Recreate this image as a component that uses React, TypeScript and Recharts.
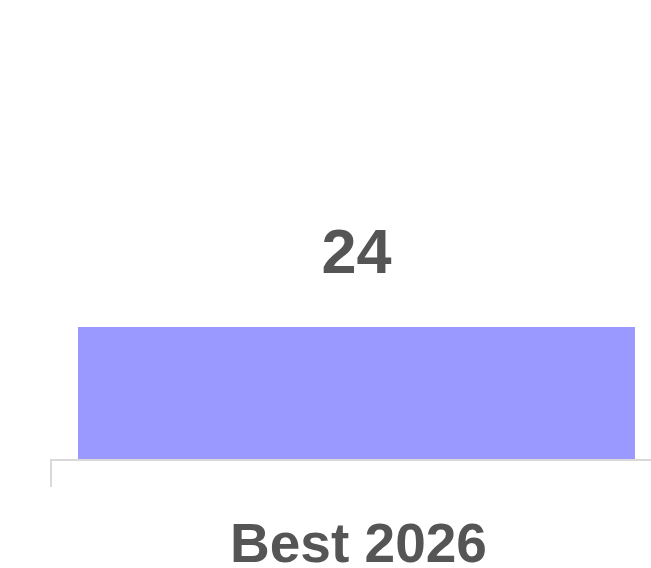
import { BarChart, Bar, XAxis, YAxis, LabelList } from "recharts";

const categories = ["Best 2026"];
const values = [24];

const data = categories.map((name, i) => ({ name, value: values[i] }));

const TEXT = "#555555";
const AXIS = "#d9d9d9";

function Tick(props: any) {
  const { x, y, payload } = props;
  const half = payload && payload.offset ? payload.offset : 0;
  return (
    <g>
      <line x1={x - half + 1} y1={y} x2={x - half + 1} y2={y + 27} stroke={AXIS} strokeWidth={2} />
      <text
        x={x + 2}
        y={y}
        dy={102}
        textAnchor="middle"
        fill={TEXT}
        fontSize={55}
        fontWeight="bold"
        fontFamily="'Liberation Sans', Arial, sans-serif"
      >
        {payload.value}
      </text>
    </g>
  );
}

export default function App() {
  return (
    <div style={{ position: "absolute", left: 0, top: 0, width: 651, height: 568, overflow: "hidden" }}>
      <BarChart
        width={663}
        height={568}
        data={data}
        margin={{ top: 194, right: 0, left: 50, bottom: 0 }}
        barCategoryGap={28}
      >
        <XAxis
          dataKey="name"
          height={108}
          axisLine={{ stroke: AXIS, strokeWidth: 2 }}
          tickLine={false}
          tickSize={0}
          tickMargin={0}
          tick={<Tick />}
          interval={0}
        />
        <YAxis hide domain={[0, 48]} />
        <Bar dataKey="value" fill="#9999ff" isAnimationActive={false}>
          <LabelList
            dataKey="value"
            position="top"
            offset={54}
            fill={TEXT}
            fontSize={63}
            fontWeight="bold"
            fontFamily="'Liberation Sans', Arial, sans-serif"
          />
        </Bar>
      </BarChart>
    </div>
  );
}
